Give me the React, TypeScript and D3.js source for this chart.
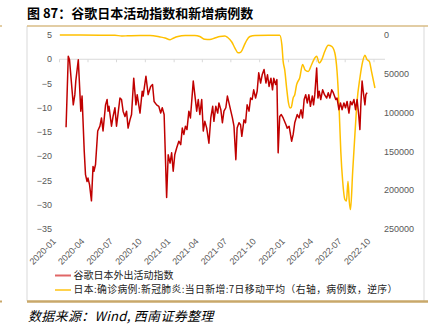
import React from "react";
import * as d3 from "d3";

const W = 433;
const H = 330;

const titleText = "图 87：谷歌日本活动指数和新增病例数";
const sourceText = "数据来源：Wind, 西南证券整理";
const legendRed = "谷歌日本外出活动指数";
const legendYellow = "日本:确诊病例:新冠肺炎:当日新增:7日移动平均（右轴，病例数，逆序）";

const leftTicks = [5, 0, -5, -10, -15, -20, -25, -30, -35];
const rightTicks = [0, 50000, 100000, 150000, 200000, 250000];
const xTickLabels = [
  "2020-01", "2020-04", "2020-07", "2020-10",
  "2021-01", "2021-04", "2021-07", "2021-10",
  "2022-01", "2022-04", "2022-07", "2022-10",
];

// Google mobility index (left axis)
const mobilityDates = [
  "2020-01-22","2020-01-29","2020-02-02","2020-02-14","2020-02-19","2020-02-22","2020-03-01","2020-03-09","2020-03-13","2020-03-20",
  "2020-03-24","2020-03-29","2020-04-01","2020-04-06","2020-04-12","2020-04-17","2020-04-20","2020-04-25","2020-05-02","2020-05-09",
  "2020-05-14","2020-05-19","2020-05-27","2020-06-01","2020-06-04","2020-06-07","2020-06-15","2020-06-20","2020-06-26","2020-07-01",
  "2020-07-12","2020-07-17","2020-07-22","2020-07-28","2020-08-02","2020-08-07","2020-08-13","2020-08-18","2020-08-25","2020-09-01",
  "2020-09-05","2020-09-14","2020-09-21","2020-09-24","2020-10-03","2020-10-10","2020-10-18","2020-10-24","2020-10-29","2020-11-06",
  "2020-11-13","2020-11-19","2020-11-24","2020-11-30","2020-12-08","2020-12-13","2020-12-19","2020-12-24","2020-12-29","2021-01-03",
  "2021-01-09","2021-01-16","2021-01-22","2021-01-27","2021-02-01","2021-02-06","2021-02-11","2021-02-17","2021-02-22","2021-03-03",
  "2021-03-08","2021-03-14","2021-03-19","2021-03-24","2021-03-30","2021-04-04","2021-04-09","2021-04-15","2021-04-22","2021-04-28",
  "2021-05-04","2021-05-08","2021-05-14","2021-05-20","2021-05-24","2021-05-30","2021-06-04","2021-06-09","2021-06-15","2021-06-20",
  "2021-06-25","2021-07-01","2021-07-06","2021-07-11","2021-07-17","2021-07-21","2021-07-27","2021-08-01","2021-08-05","2021-08-12",
  "2021-08-17","2021-08-22","2021-08-28","2021-09-02","2021-09-07","2021-09-12","2021-09-18","2021-09-23","2021-09-28","2021-10-04",
  "2021-10-09","2021-10-15","2021-10-21","2021-10-26","2021-10-31","2021-11-06","2021-11-11","2021-11-15","2021-11-21","2021-11-25",
  "2021-11-29","2021-12-04","2021-12-09","2021-12-15","2021-12-24","2021-12-28","2022-01-03","2022-01-11","2022-01-16","2022-01-21",
  "2022-01-29","2022-02-04","2022-02-10","2022-02-15","2022-02-20","2022-02-25","2022-03-02","2022-03-07","2022-03-12","2022-03-18",
  "2022-03-22","2022-03-26","2022-04-01","2022-04-05","2022-04-09","2022-04-14","2022-04-20","2022-04-26","2022-05-03","2022-05-08",
  "2022-05-13","2022-05-19","2022-05-24","2022-06-01","2022-06-05","2022-06-11","2022-06-16","2022-06-21","2022-06-27","2022-07-02",
  "2022-07-07","2022-07-13","2022-07-18","2022-07-23","2022-07-29","2022-08-03","2022-08-08","2022-08-13","2022-08-17","2022-08-20",
  "2022-08-24","2022-08-27","2022-09-02","2022-09-05","2022-09-09",
];
const mobilityValues = [
  -14.0, 0.6, -0.1, -9.4, -7.3, -4.5, -0.1, -10.7, -7.6, -19.0,
  -23.8, -25.2, -24.5, -25.9, -29.2, -22.1, -23.1, -21.7, -14.8, -13.8,
  -12.1, -14.8, -9.4, -8.3, -10.7, -9.7, -13.8, -11.8, -10.0, -13.8,
  -8.0, -8.3, -10.7, -11.8, -10.7, -14.2, -12.5, -11.4, -3.9, -9.4,
  -7.3, -11.1, -6.6, -7.6, -3.5, -7.3, -5.6, -5.2, -8.7, -9.4,
  -9.7, -11.1, -10.0, -11.4, -28.5, -19.7, -21.4, -19.3, -23.1, -19.7,
  -18.3, -16.9, -17.6, -14.2, -15.5, -13.8, -14.5, -10.7, -12.1, -4.5,
  -7.3, -10.7, -8.3, -11.4, -8.3, -14.8, -12.8, -14.2, -17.3, -12.1,
  -9.7, -12.8, -9.7, -11.1, -9.0, -10.4, -13.1, -10.7, -10.0, -7.6,
  -9.0, -10.7, -12.1, -13.8, -20.7, -14.2, -13.1, -13.5, -15.9, -12.5,
  -13.1, -9.4, -10.7, -8.0, -8.3, -6.3, -8.0, -6.6, -2.8, -4.9,
  -3.2, -2.1, -4.9, -3.2, -5.6, -3.9, -6.3, -3.9, -5.2, -4.2,
  -19.3, -11.8, -11.4, -12.1, -13.5, -14.2, -13.8, -16.9, -15.5, -13.1,
  -11.4, -12.1, -10.4, -12.1, -8.3, -7.3, -9.0, -7.3, -9.7, -7.6,
  -9.4, -7.3, -1.8, -8.0, -6.6, -8.3, -6.3, -7.3, -8.0, -6.9,
  -8.0, -6.3, -6.9, -8.3, -8.0, -10.4, -9.0, -10.4, -9.0, -10.0,
  -8.7, -11.1, -8.7, -9.4, -8.3, -10.4, -8.3, -11.4, -14.5, -9.4,
  -4.5, -6.3, -9.4, -7.3, -6.9,
];

// Japan new confirmed cases, 7-day moving average (right axis, reversed)
const caseDates = [
  "2020-01-02","2020-05-09","2020-06-26","2020-07-18","2020-08-06","2020-09-14","2020-10-16","2020-11-17","2020-12-03","2020-12-19",
  "2020-12-31","2021-01-13","2021-02-05","2021-03-08","2021-03-24","2021-04-09","2021-04-25","2021-05-11","2021-05-27","2021-06-12",
  "2021-06-21","2021-07-04","2021-07-14","2021-07-24","2021-08-02","2021-08-12","2021-08-21","2021-08-31","2021-09-16","2021-11-03",
  "2021-12-04","2021-12-11","2021-12-15","2021-12-20","2021-12-26","2022-01-01","2022-01-06","2022-01-10","2022-01-16","2022-01-21",
  "2022-01-27","2022-02-06","2022-02-15","2022-02-23","2022-03-05","2022-03-16","2022-03-26","2022-04-01","2022-04-09","2022-04-17",
  "2022-04-27","2022-05-08","2022-05-19","2022-05-29","2022-06-05","2022-06-12","2022-06-17","2022-06-23","2022-06-30","2022-07-05",
  "2022-07-10","2022-07-14","2022-07-18","2022-07-25","2022-08-01","2022-08-08","2022-08-17","2022-08-26","2022-09-02","2022-09-09",
  "2022-09-16","2022-09-23","2022-10-04",
];
const caseValues = [
  0, 200, 300, 1300, 1000, 500, 600, 2500, 3800, 6000,
  3800, 2000, 700, 700, 2000, 5500, 5800, 3900, 2000, 1300,
  3200, 9000, 16800, 23000, 22000, 14000, 6500, 2000, 500, 400,
  400, 13000, 34000, 45000, 68000, 87600, 94000, 93000, 81000, 77000,
  64000, 55000, 38000, 45000, 47000, 38000, 29600, 27500, 36000, 32000,
  21000, 13300, 14600, 23200, 46800, 98300, 150000, 188500, 212000, 214000,
  188500, 214000, 225000, 175600, 128500, 85400, 55400, 34000, 26200, 31800,
  34000, 46800, 68300,
];

const parse = d3.utcParse("%Y-%m-%d");

export default function App() {
  const x = d3
    .scaleUtc()
    .domain([parse("2020-01-01")!, parse("2022-10-01")!])
    .range([59.5, 374]);
  const yL = d3.scaleLinear().domain([-35, 5]).range([229, 35]);
  const yR = d3.scaleLinear().domain([0, 250000]).range([35, 229]);

  const mobility = mobilityDates.map((d, i) => ({ date: parse(d)!, v: mobilityValues[i] }));
  const cases = caseDates.map((d, i) => ({ date: parse(d)!, v: caseValues[i] }));

  const redLine = d3
    .line<{ date: Date; v: number }>()
    .x((d) => x(d.date))
    .y((d) => yL(d.v));
  const yellowLine = d3
    .line<{ date: Date; v: number }>()
    .x((d) => x(d.date))
    .y((d) => yR(d.v))
    .curve(d3.curveMonotoneX);

  const xTicks = xTickLabels.map((s) => ({ label: s, date: parse(s + "-01")! }));
  const y0 = yL(0);
  const numFont = "'Liberation Sans', Arial, sans-serif";
  const cjkFont = "'Noto Sans CJK SC', sans-serif";

  return (
    <svg
      width={W}
      height={H}
      style={{ position: "absolute", left: 0, top: 0, background: "#fff" }}
    >
      <rect x={0} y={0} width={W} height={H} fill="#fff" />
      {/* title */}
      <text x={27} y={18} fontFamily={cjkFont} fontWeight="bold" fontSize={13} fill="#000">
        {titleText}
      </text>
      {/* frame */}
      <line x1={27} x2={27} y1={26} y2={301} stroke="#d9d9d9" strokeWidth={1} />
      <line x1={424} x2={424} y1={26} y2={301} stroke="#d9d9d9" strokeWidth={1} />
      <line x1={27} x2={428} y1={26} y2={26} stroke="#d8bd86" strokeWidth={1.5} />
      <line x1={27} x2={428} y1={301.5} y2={301.5} stroke="#c9a86a" strokeWidth={2.5} />
      <line x1={0} x2={2} y1={26} y2={26} stroke="#d8bd86" strokeWidth={1.5} />
      <line x1={0} x2={2} y1={301.5} y2={301.5} stroke="#c9a86a" strokeWidth={2} />

      {/* zero line with ticks */}
      <line x1={59.5} x2={385} y1={y0} y2={y0} stroke="#d9d9d9" strokeWidth={1} />
      {xTicks.map((t) => (
        <line
          key={"tk" + t.label}
          x1={x(t.date)}
          x2={x(t.date)}
          y1={y0}
          y2={y0 + 3}
          stroke="#d9d9d9"
          strokeWidth={1}
        />
      ))}

      {/* left axis labels */}
      {leftTicks.map((v) => (
        <text
          key={"l" + v}
          x={52}
          y={yL(v)}
          dy="0.35em"
          textAnchor="end"
          fontFamily={numFont}
          fontSize={9}
          fill="#595959"
        >
          {v < 0 ? "\u2212" + Math.abs(v) : String(v)}
        </text>
      ))}
      {/* right axis labels */}
      {rightTicks.map((v) => (
        <text
          key={"r" + v}
          x={384}
          y={yR(v)}
          dy="0.35em"
          textAnchor="start"
          fontFamily={numFont}
          fontSize={9}
          fill="#595959"
        >
          {String(v)}
        </text>
      ))}
      {/* x labels */}
      {xTicks.map((t) => (
        <text
          key={"x" + t.label}
          transform={`translate(${x(t.date) - 3},${242}) rotate(-45)`}
          textAnchor="end"
          fontFamily={numFont}
          fontSize={9}
          fill="#595959"
        >
          {t.label}
        </text>
      ))}

      {/* series */}
      <path d={yellowLine(cases) || ""} fill="none" stroke="#ffc000" strokeWidth={1.5} />
      <path d={redLine(mobility) || ""} fill="none" stroke="#c00000" strokeWidth={1.5} strokeLinejoin="round" />

      {/* legend */}
      <line x1={55} x2={71} y1={275.5} y2={275.5} stroke="#e06666" strokeWidth={2} />
      <text x={73.5} y={275.5} dy="0.35em" fontFamily={cjkFont} fontSize={10} fill="#222">
        {legendRed}
      </text>
      <line x1={55} x2={71} y1={290} y2={290} stroke="#ffd24d" strokeWidth={2} />
      <text x={73.5} y={290} dy="0.35em" fontFamily={cjkFont} fontSize={9.8} letterSpacing={0.4} fill="#222">
        {legendYellow}
      </text>

      {/* source */}
      <text x={28} y={321} fontFamily={cjkFont} fontStyle="italic" fontSize={13} letterSpacing={0.3} fill="#000">
        {sourceText}
      </text>
    </svg>
  );
}
